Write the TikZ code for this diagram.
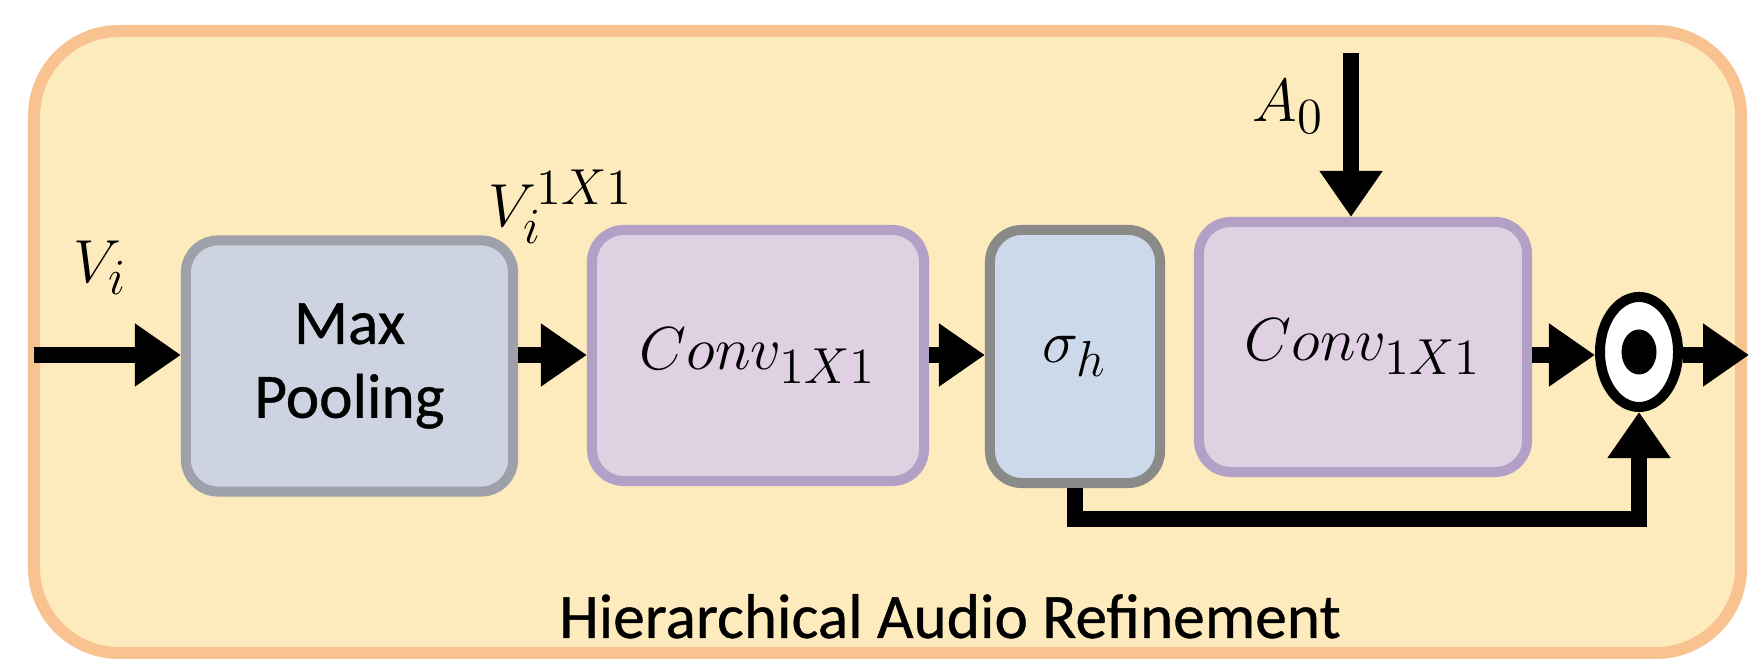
\documentclass[tikz,border=0pt]{standalone}
\usepackage{fontspec}
\setmainfont{Carlito}[BoldFont=Carlito,BoldFeatures={FakeBold=0.6}]
\usetikzlibrary{arrows.meta,shapes.geometric}
\definecolor{Y}{RGB}{253,235,189}
\definecolor{O}{RGB}{248,194,145}
\definecolor{M}{RGB}{205,211,224}
\definecolor{Mb}{RGB}{158,161,170}
\definecolor{C}{RGB}{223,209,226}
\definecolor{Cb}{RGB}{179,160,199}
\definecolor{S}{RGB}{204,217,234}
\definecolor{Sb}{RGB}{138,138,136}
\tikzset{
  flow/.style={line width=0.16cm,-{Triangle[length=0.46cm,width=0.6cm]}},
  blk/.style={rounded corners=0.32cm,line width=0.1cm,minimum height=2.51cm,inner sep=0pt,align=center},
  poolbox/.style={blk,fill=M,draw=Mb,font=\fontsize{18}{21}\selectfont\bfseries},
  convbox/.style={blk,fill=C,draw=Cb,font=\fontsize{19}{23}\selectfont},
  sigbox/.style={blk,fill=S,draw=Sb,font=\fontsize{19}{23}\selectfont},
  lbl/.style={inner sep=0pt,font=\fontsize{19}{23}\selectfont}
}
\newcommand{\drawflow}{\draw[flow]}

\begin{document}
\begin{tikzpicture}[x=0.01cm,y=-0.01cm]
\useasboundingbox (0,0) rectangle (1749,659);
\draw[draw=O,fill=Y,line width=0.12cm,rounded corners=0.85cm] (34,31) rectangle (1741,653);
% blocks
\node[poolbox,minimum width=3.27cm] (mp) at (349.5,366) {Max\\Pooling};
\node[convbox,minimum width=3.32cm] (conv1) at (758,355.5) {$Conv_{1X1}$};
\node[sigbox,minimum width=1.70cm,minimum height=2.53cm] (sig) at (1075,356.5) {$\sigma_h$};
\node[convbox,minimum width=3.28cm,minimum height=2.50cm] (conv2) at (1363,347) {$Conv_{1X1}$};
\node[ellipse,draw,fill=white,line width=0.1cm,minimum width=0.78cm,minimum height=1.1cm,inner sep=0pt] (odot) at (1639,352) {};
\fill (odot.center) ellipse [x radius=0.175cm,y radius=0.225cm];
% labels
\node[lbl] (lvi) at (100,268) {$V_i$};
\node[lbl] (lvp) at (561,207) {$V_i^{1X1}$};
\node[lbl] (la0) at (1288,107) {$A_0$};
\node[anchor=base,inner sep=0pt,font=\fontsize{18}{21}\selectfont\bfseries] (title) at (950,638) {Hierarchical Audio Refinement};
% connectors
\coordinate (row) at (0,355);
\coordinate (vin) at (34,355);
\coordinate (vout) at (1749,355);
\coordinate (a0in) at (1351,53);
\coordinate (fb) at (0,519);
\drawflow (vin) -- (mp.west |- row);
\drawflow (mp.east |- row) -- (conv1.west |- row);
\drawflow (conv1.east |- row) -- (sig.west |- row);
\drawflow (a0in) -- (a0in |- conv2.north);
\drawflow (conv2.east |- row) -- (odot.west |- row);
\drawflow (odot.east |- row) -- (vout);
\drawflow (sig.south) -- (sig.south |- fb) -| (odot.south);
\end{tikzpicture}
\end{document}
